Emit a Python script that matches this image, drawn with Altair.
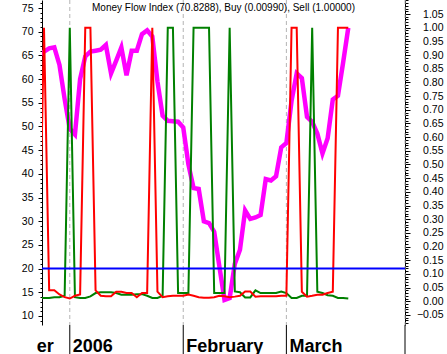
import altair as alt
import pandas as pd
import numpy as np

# ---------------- data (one value per weekday, Dec 23 2005 .. Mar 17 2006) ----------------
dates = pd.bdate_range("2005-12-23", "2006-03-17")

mfi = [65.0, 65.8, 66.5, 66.7, 63.0, 55.8, 49.5, 48.3, 60.0, 64.8,
       65.8, 66.0, 66.2, 67.2, 61.2, 63.9, 66.7, 60.8, 66.0, 66.0,
       69.5, 70.3, 69.0, 59.5, 52.3, 51.2, 51.1, 51.0, 49.8, 42.0,
       37.0, 36.8, 30.0, 29.6, 27.8, 20.5, 13.4, 13.8, 21.0, 24.0,
       32.3, 30.5, 30.8, 31.3, 38.9, 38.6, 39.5, 45.6, 46.5, 55.4,
       61.2, 60.2, 52.0, 51.0, 48.5, 44.3, 47.5, 55.7, 56.5, 63.5,
       70.8288]

buy = [0.012, 0.012, 0.012, 0.015, 0.015, 0.02, 1.0, 0.015, 0.012, 0.012,
       0.018, 0.03, 0.033, 0.033, 0.033, 0.03, 0.024, 0.024, 0.024, 0.026,
       0.026, 0.02, 0.012, 0.012, 0.02, 1.0, 1.0, 0.03, 0.03, 0.03,
       1.0, 1.0, 1.0, 1.0, 0.03, 0.03, 0.03, 1.0, 0.036, 0.033,
       0.014, 0.014, 0.04, 0.03, 0.03, 0.03, 0.03, 0.036, 0.03, 0.012,
       0.012, 0.02, 0.02, 1.0, 0.035, 0.03, 0.022, 0.02, 0.012, 0.012,
       0.0099]

sell = [0.04, 1.0, 0.04, 0.04, 0.025, 0.015, 0.01, 0.02, 0.025, 1.0,
        1.0, 0.04, 0.02, 0.018, 0.018, 0.035, 0.035, 0.03, 0.03, 0.015,
        0.03, 0.03, 1.0, 0.035, 0.015, 0.018, 0.02, 0.02, 0.02, 0.025,
        0.02, 0.015, 0.013, 0.013, 0.015, 0.02, 0.018, 0.015, 0.017, 0.02,
        0.036, 0.036, 0.017, 0.018, 0.018, 0.018, 0.018, 0.02, 0.02, 1.0,
        1.0, 0.035, 0.017, 0.02, 0.024, 0.024, 0.03, 0.035, 1.0, 1.0,
        1.0]

threshold = [20]

month_starts = ["2006-01-02", "2006-02-01", "2006-03-01", "2006-04-03"]
label_dates = ["2005-12-22", "2006-01-02", "2006-02-01", "2006-03-01"]
month_labels = ["er", "2006", "February", "March"]

left_ticks = list(range(10, 80, 5))
left_minor = list(range(9, 77))
right_ticks = [round(-0.05 + 0.05 * k, 2) for k in range(23)]
right_minor = [round(-0.08 + 0.01 * k, 2) for k in range(119)]

# ---------------- helpers ----------------
origin = np.datetime64("2005-12-26")


def wd_index(ds):
    arr = np.array(pd.to_datetime(ds).values.astype("datetime64[D]"))
    return np.busday_count(origin, arr)


df = pd.DataFrame({"idx": wd_index(dates), "mfi": mfi, "buy": buy, "sell": sell})
grid_df = pd.DataFrame({"idx": wd_index(month_starts)})
lab_df = pd.DataFrame({"idx": wd_index(label_dates), "label": month_labels})
thr_df = pd.DataFrame({"level": threshold})

FONT = "Liberation Sans"
xscale = alt.Scale(domain=[-0.388, 70], nice=False, zero=False)
lscale = alt.Scale(domain=[8.1, 76.7], nice=False, zero=False)
rscale = alt.Scale(domain=[-0.0867, 1.1012], nice=False, zero=False)

x_axis = alt.Axis(values=list(range(0, 71, 5)), tickSize=6, labels=False, grid=False,
                  title=None, domainColor="black", tickColor="black", domainWidth=1)

left_axis = alt.Axis(orient="left", values=left_ticks, tickSize=4, labelPadding=5,
                     labelFont=FONT, labelFontSize=10.5, labelColor="black", format="d",
                     grid=False, title=None, domainColor="black", tickColor="black",
                     labelFlush=False, labelOverlap=False)
left_minor_axis = alt.Axis(orient="left", values=left_minor, tickSize=2, labels=False,
                           grid=False, title=None, domain=False, tickColor="black")
right_axis = alt.Axis(orient="right", values=right_ticks, tickSize=5, labelPadding=33,
                      labelAlign="right", labelFont=FONT, labelFontSize=10.5,
                      labelColor="black", format=".2f", grid=False, title=None,
                      domainColor="black", tickColor="black", labelFlush=False,
                      labelOverlap=False)
right_minor_axis = alt.Axis(orient="right", values=right_minor, tickSize=3, labels=False,
                            grid=False, title=None, domain=False, tickColor="black")

base = alt.Chart(df)

grid = alt.Chart(grid_df).mark_rule(color="#b4b4b4", strokeDash=[4, 3], strokeWidth=1).encode(
    x=alt.X("idx:Q", scale=xscale, axis=None))

mfi_line = base.mark_line(color="#ff00ff", strokeWidth=4.5, clip=True).encode(
    x=alt.X("idx:Q", scale=xscale, axis=x_axis),
    y=alt.Y("mfi:Q", scale=lscale, axis=left_axis))

buy_line = base.mark_line(color="#008000", strokeWidth=2, clip=True).encode(
    x=alt.X("idx:Q", scale=xscale, axis=None),
    y=alt.Y("buy:Q", scale=rscale, axis=right_minor_axis))

sell_line = base.mark_line(color="#ff0000", strokeWidth=2, clip=True).encode(
    x=alt.X("idx:Q", scale=xscale, axis=None),
    y=alt.Y("sell:Q", scale=rscale, axis=right_axis))

thr_rule = alt.Chart(thr_df).mark_rule(color="#0000ff", strokeWidth=2).encode(
    y=alt.Y("level:Q", scale=lscale, axis=left_minor_axis))

month_ticks = alt.Chart(grid_df).mark_rule(color="black", strokeWidth=1).encode(
    x=alt.X("idx:Q", scale=xscale, axis=None),
    y=alt.value(325), y2=alt.value(354))

month_text = alt.Chart(lab_df).mark_text(
    align="left", baseline="alphabetic", dx=3, font=FONT, fontSize=18,
    fontWeight="bold", color="black").encode(
    x=alt.X("idx:Q", scale=xscale, axis=None),
    y=alt.value(352), text="label:N")

title_str = f"Money Flow Index ({mfi[-1]:.4f}), Buy ({buy[-1]:.5f}), Sell ({sell[-1]:.5f})"
title = alt.Chart(pd.DataFrame({"t": [title_str]})).mark_text(
    font=FONT, fontSize=10, color="black", baseline="middle", align="center").encode(
    x=alt.value(181.5), y=alt.value(8), text="t:N")

chart = alt.layer(
    grid, mfi_line, buy_line, sell_line, thr_rule, month_ticks, month_text, title
).resolve_scale(y="independent").properties(
    width=363, height=325,
    autosize=alt.AutoSizeParams(type="none"),
    padding={"left": 42, "right": 42, "top": 0, "bottom": 29},
    background="white",
).configure_view(stroke=None)

chart.save("out.html", embed_options={"renderer": "svg", "actions": False})
